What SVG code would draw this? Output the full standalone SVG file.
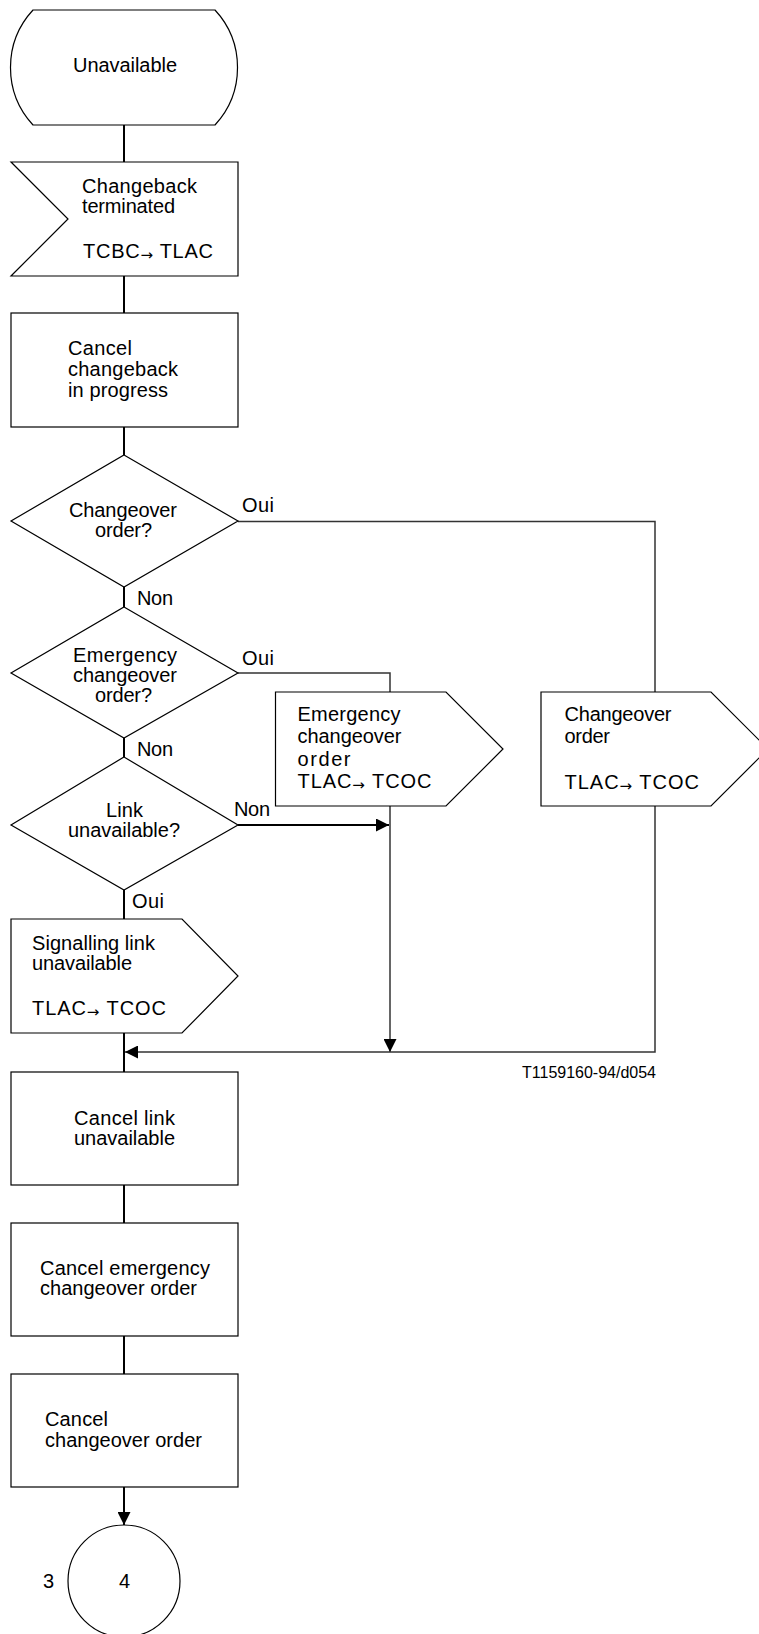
<svg xmlns="http://www.w3.org/2000/svg" width="759" height="1634" viewBox="0 0 759 1634">
<defs>
<style>
.s{fill:#fff;stroke:#000;stroke-width:1.2}
.t{font-family:"Liberation Sans",Arial,Helvetica,sans-serif;font-size:20px;fill:#000}
.sm{font-family:"Liberation Sans",Arial,Helvetica,sans-serif;font-size:16px;fill:#000}
.c{fill:none;stroke:#000;stroke-width:2}
.b{fill:none;stroke:#333;stroke-width:1.5}
.ar{font-family:"DejaVu Sans",sans-serif;font-size:15px}
</style>
<marker id="ah" markerUnits="userSpaceOnUse" markerWidth="14" markerHeight="13" refX="13" refY="6.5" orient="auto"><path d="M0,0 L13,6.5 L0,13 Z" fill="#000"/></marker>
</defs>
<rect width="759" height="1634" fill="#fff"/>
<g id="connectors">
<path class="c" d="M124,125V162"/>
<path class="c" d="M124,276V313"/>
<path class="c" d="M124,427V455"/>
<path class="c" d="M124,587V607"/>
<path class="c" d="M124,738V757"/>
<path class="c" d="M124,890V919"/>
<path class="c" d="M124,1033V1072"/>
<path class="c" d="M124,1185V1223"/>
<path class="c" d="M124,1336V1374"/>
<path class="c" d="M124,1487V1525" marker-end="url(#ah)"/>
<path class="b" d="M238,521.5H655V692"/>
<path class="b" d="M238,673H390V692"/>
<path class="c" d="M238,825H389" marker-end="url(#ah)"/>
<path class="b" d="M390,806V1052" marker-end="url(#ah)"/>
<path class="b" d="M655,806V1052H125" marker-end="url(#ah)"/>
</g>
<g id="labels">
<text class="t" x="242" y="512" textLength="32" lengthAdjust="spacing">Oui</text>
<text class="t" x="137" y="605" textLength="36" lengthAdjust="spacing">Non</text>
<text class="t" x="242" y="665" textLength="32" lengthAdjust="spacing">Oui</text>
<text class="t" x="137" y="756" textLength="36" lengthAdjust="spacing">Non</text>
<text class="t" x="234" y="816" textLength="36" lengthAdjust="spacing">Non</text>
<text class="t" x="132" y="908" textLength="32" lengthAdjust="spacing">Oui</text>
<text class="sm" x="522" y="1078" textLength="134" lengthAdjust="spacing">T1159160-94/d054</text>
</g>
<g id="n-unavailable">
<path class="s" d="M33,10 H215 A84.7,84.7 0 0 1 215,125 H33 A84.7,84.7 0 0 1 33,10 Z"/>
<text class="t" x="73" y="72" textLength="104" lengthAdjust="spacing">Unavailable</text>
</g>
<g id="n-changeback-terminated">
<polygon class="s" points="11,162 238,162 238,276 11,276 68,219"/>
<text class="t" x="82" y="193" textLength="115" lengthAdjust="spacing">Changeback</text>
<text class="t" x="82" y="213" textLength="93" lengthAdjust="spacing">terminated</text>
<text class="t" x="83" y="258" textLength="130" lengthAdjust="spacing">TCBC<tspan class="ar" dy="2">→</tspan><tspan dy="-2"> TLAC</tspan></text>
</g>
<g id="n-cancel-changeback">
<rect class="s" x="11" y="313" width="227" height="114"/>
<text class="t" x="68" y="355" textLength="64" lengthAdjust="spacing">Cancel</text>
<text class="t" x="68" y="376" textLength="110" lengthAdjust="spacing">changeback</text>
<text class="t" x="68" y="397" textLength="100" lengthAdjust="spacing">in progress</text>
</g>
<g id="n-changeover-q">
<polygon class="s" points="124,455 238,521 124,587 11,521"/>
<text class="t" x="69" y="517" textLength="108" lengthAdjust="spacing">Changeover</text>
<text class="t" x="95" y="537" textLength="57" lengthAdjust="spacing">order?</text>
</g>
<g id="n-emergency-q">
<polygon class="s" points="124,607 238,673 124,738 11,673"/>
<text class="t" x="73" y="662" textLength="104" lengthAdjust="spacing">Emergency</text>
<text class="t" x="73" y="682" textLength="104" lengthAdjust="spacing">changeover</text>
<text class="t" x="95" y="702" textLength="57" lengthAdjust="spacing">order?</text>
</g>
<g id="n-link-q">
<polygon class="s" points="124,757 238,825 124,890 11,825"/>
<text class="t" x="106" y="817" textLength="37" lengthAdjust="spacing">Link</text>
<text class="t" x="68" y="837" textLength="112" lengthAdjust="spacing">unavailable?</text>
</g>
<g id="n-signalling-unavailable">
<polygon class="s" points="11,919 182,919 238,976 182,1033 11,1033"/>
<text class="t" x="32" y="950" textLength="123" lengthAdjust="spacing">Signalling link</text>
<text class="t" x="32" y="970" textLength="100" lengthAdjust="spacing">unavailable</text>
<text class="t" x="32" y="1015" textLength="134" lengthAdjust="spacing">TLAC<tspan class="ar" dy="2">→</tspan><tspan dy="-2"> TCOC</tspan></text>
</g>
<g id="n-emergency-order">
<polygon class="s" points="275.5,692 446,692 503,749 446,806 275.5,806"/>
<text class="t" x="297.5" y="721" textLength="103" lengthAdjust="spacing">Emergency</text>
<text class="t" x="297.5" y="743" textLength="104" lengthAdjust="spacing">changeover</text>
<text class="t" x="297.5" y="766" textLength="53" lengthAdjust="spacing">order</text>
<text class="t" x="297.5" y="788" textLength="134" lengthAdjust="spacing">TLAC<tspan class="ar" dy="2">→</tspan><tspan dy="-2"> TCOC</tspan></text>
</g>
<g id="n-changeover-order">
<polygon class="s" points="541,692 711,692 768,749 711,806 541,806"/>
<text class="t" x="564.5" y="721" textLength="107" lengthAdjust="spacing">Changeover</text>
<text class="t" x="564.5" y="743" textLength="45.5" lengthAdjust="spacing">order</text>
<text class="t" x="564.5" y="789" textLength="134.5" lengthAdjust="spacing">TLAC<tspan class="ar" dy="2">→</tspan><tspan dy="-2"> TCOC</tspan></text>
</g>
<g id="n-cancel-link">
<rect class="s" x="11" y="1072" width="227" height="113"/>
<text class="t" x="74" y="1125" textLength="101" lengthAdjust="spacing">Cancel link</text>
<text class="t" x="74" y="1145" textLength="101" lengthAdjust="spacing">unavailable</text>
</g>
<g id="n-cancel-emergency">
<rect class="s" x="11" y="1223" width="227" height="113"/>
<text class="t" x="40" y="1275" textLength="170" lengthAdjust="spacing">Cancel emergency</text>
<text class="t" x="40" y="1295" textLength="157" lengthAdjust="spacing">changeover order</text>
</g>
<g id="n-cancel-changeover">
<rect class="s" x="11" y="1374" width="227" height="113"/>
<text class="t" x="45" y="1426" textLength="63" lengthAdjust="spacing">Cancel</text>
<text class="t" x="45" y="1447" textLength="157" lengthAdjust="spacing">changeover order</text>
</g>
<g id="n-connector-4">
<circle class="s" cx="124" cy="1581" r="56"/>
<text class="t" x="43" y="1588">3</text>
<text class="t" x="124.5" y="1588" text-anchor="middle">4</text>
</g>
</svg>
